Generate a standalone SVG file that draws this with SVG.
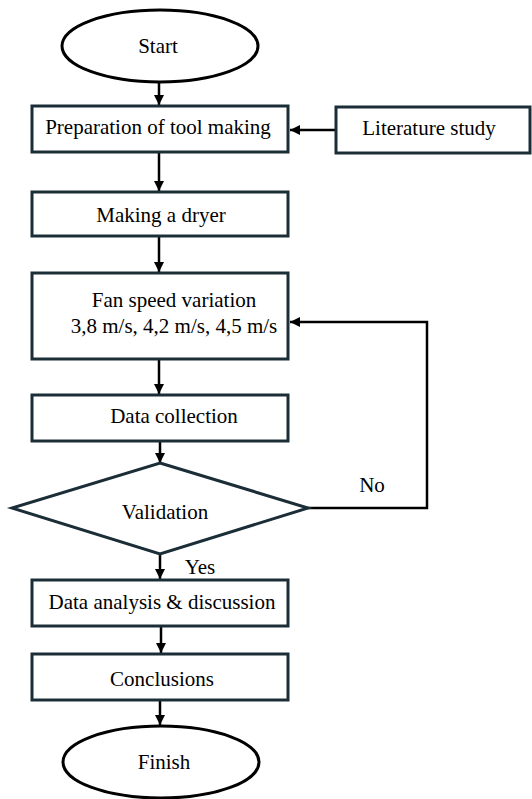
<svg xmlns="http://www.w3.org/2000/svg" width="532" height="799" viewBox="0 0 532 799">
<style>
.box{fill:#fff;stroke:#1b2e38;stroke-width:3}
.term{fill:#fff;stroke:#000;stroke-width:3}
.con{fill:none;stroke:#000;stroke-width:2.5}
text{font-family:"Liberation Serif","Times New Roman",serif;font-size:21px;fill:#000;text-anchor:middle}
</style>
<defs>
<marker id="ah" viewBox="0 0 10 10" refX="10" refY="5" markerWidth="10" markerHeight="10" markerUnits="userSpaceOnUse" orient="auto">
<path d="M0,0 L10,5 L0,10 Z" fill="#000"/>
</marker>
</defs>
<rect width="532" height="799" fill="#fff"/>
<g id="connectors">
<line class="con" x1="159" y1="82" x2="159" y2="105" marker-end="url(#ah)"/>
<line class="con" x1="336" y1="130" x2="290" y2="130" marker-end="url(#ah)"/>
<line class="con" x1="159" y1="152" x2="159" y2="191" marker-end="url(#ah)"/>
<line class="con" x1="159" y1="236" x2="159" y2="272" marker-end="url(#ah)"/>
<line class="con" x1="159" y1="359" x2="159" y2="394" marker-end="url(#ah)"/>
<line class="con" x1="160" y1="441" x2="160" y2="463" marker-end="url(#ah)"/>
<polyline class="con" points="308,508 427,508 427,322 290,322" marker-end="url(#ah)"/>
<line class="con" x1="160" y1="554" x2="160" y2="579" marker-end="url(#ah)"/>
<line class="con" x1="161" y1="626" x2="161" y2="653" marker-end="url(#ah)"/>
<line class="con" x1="160" y1="700" x2="160" y2="725" marker-end="url(#ah)"/>
<text x="372" y="492">No</text>
<text x="200" y="574">Yes</text>
</g>
<g id="start">
<ellipse class="term" cx="160" cy="46" rx="98" ry="36"/>
<text x="158" y="53">Start</text>
</g>
<g id="prep">
<rect class="box" x="32" y="106" width="256" height="46"/>
<text x="158" y="134">Preparation of tool making</text>
</g>
<g id="lit">
<rect class="box" x="336" y="107" width="194" height="46"/>
<text x="429" y="135">Literature study</text>
</g>
<g id="dryer">
<rect class="box" x="32" y="192" width="256" height="44"/>
<text x="161" y="222">Making a dryer</text>
</g>
<g id="fan">
<rect class="box" x="32" y="273" width="256" height="86"/>
<text x="174" y="307">Fan speed variation</text>
<text x="174" y="333">3,8 m/s, 4,2 m/s, 4,5 m/s</text>
</g>
<g id="data">
<rect class="box" x="32" y="395" width="256" height="46"/>
<text x="174" y="423">Data collection</text>
</g>
<g id="validation">
<polygon class="box" points="160,463 308,508 160,554 12,508"/>
<text x="165" y="519">Validation</text>
</g>
<g id="analysis">
<rect class="box" x="32" y="580" width="256" height="46"/>
<text x="162" y="609">Data analysis &amp; discussion</text>
</g>
<g id="conclusions">
<rect class="box" x="32" y="654" width="256" height="46"/>
<text x="162" y="686">Conclusions</text>
</g>
<g id="finish">
<ellipse class="term" cx="161" cy="762" rx="98" ry="36"/>
<text x="164" y="769">Finish</text>
</g>
</svg>
